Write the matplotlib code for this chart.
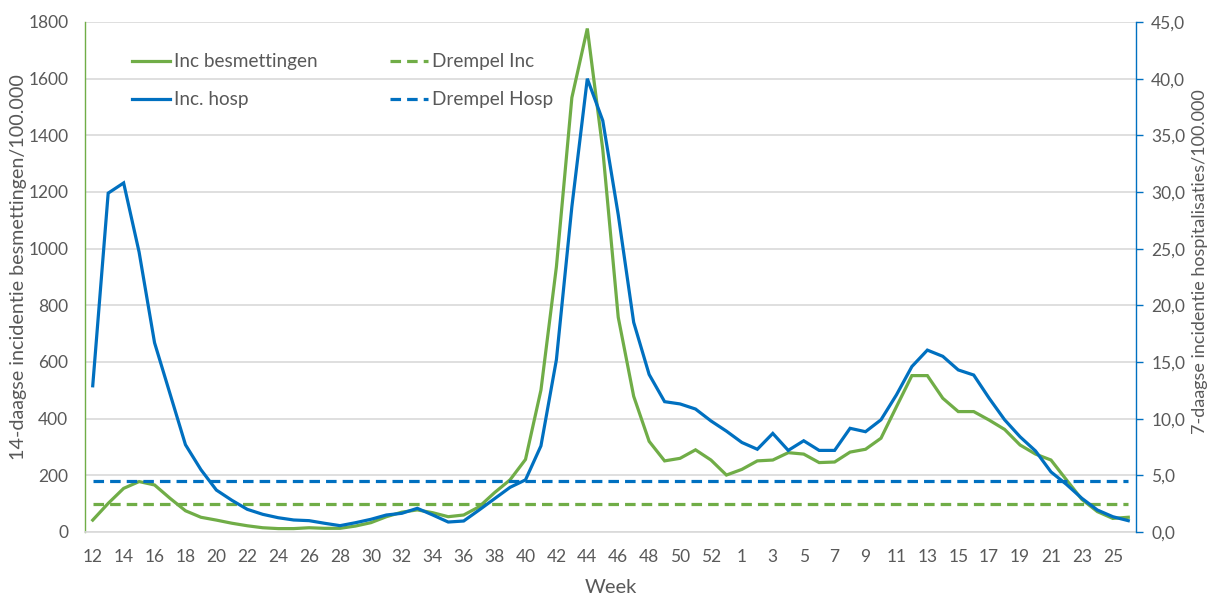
import matplotlib
matplotlib.use("Agg")
import matplotlib.pyplot as plt
from matplotlib.ticker import FuncFormatter, MultipleLocator

# Week numbers: 2020 runs 12..53, 2021 runs 1..26
weeks = list(range(12, 54)) + list(range(1, 27))

# 14-day incidence of infections per 100.000 (left axis)
inc_besmettingen = [
    42, 101, 154, 178, 166, 119, 75, 52, 42, 31, 22, 15, 12, 12,
    15, 13, 13, 21, 33, 54, 70, 78, 68, 54, 60, 89, 139, 184,
    256, 501, 936, 1533, 1777, 1350, 758, 479, 320, 251, 260, 290,
    254, 201,
    221, 251, 254, 280, 275, 245, 247, 282, 292, 331, 442, 552,
    552, 472, 425, 425, 395, 362, 307, 275, 254, 184, 115, 72, 48, 52,
]

# 7-day incidence of hospitalisations per 100.000 (right axis)
inc_hosp = [
    12.9, 29.9, 30.8, 24.7, 16.7, 12.2, 7.7, 5.5, 3.7, 2.8, 2.0, 1.56, 1.26, 1.06,
    1.0, 0.77, 0.56, 0.82, 1.12, 1.5, 1.65, 2.09, 1.5, 0.88, 0.97, 1.94, 2.94, 3.94,
    4.6, 7.6, 15.2, 28.7, 40.0, 36.3, 28.0, 18.5, 13.9, 11.5, 11.3, 10.85,
    9.8, 8.9,
    7.9, 7.3, 8.7, 7.2, 8.05, 7.2, 7.2, 9.15, 8.85, 9.9, 12.1, 14.6,
    16.05, 15.5, 14.3, 13.85, 11.8, 9.9, 8.4, 7.15, 5.3, 4.2, 2.97, 1.94, 1.35, 1.0,
]

# Thresholds
drempel_inc = 100
drempel_hosp = 4.5

GREEN = "#70AD47"
BLUE = "#0070C0"
TEXT = "#595959"
GRID = "#D9D9D9"

plt.rcParams["font.family"] = ["Lato", "DejaVu Sans"]

fig = plt.figure(figsize=(12.11, 5.95), dpi=100)
ax = fig.add_axes([85 / 1211, 1 - 532 / 595, (1136 - 85) / 1211, (532 - 22) / 595])
ax2 = ax.twinx()

x = list(range(len(weeks)))
n = len(weeks)

lw = 2.3
dash = (3.3, 1.9)

l_inc, = ax.plot(x, inc_besmettingen, color=GREEN, lw=lw, label="Inc besmettingen",
                 solid_joinstyle="miter")
l_dinc, = ax.plot([0, n - 1], [drempel_inc, drempel_inc], color=GREEN, lw=lw,
                  dashes=dash, label="Drempel Inc")
l_hosp, = ax2.plot(x, inc_hosp, color=BLUE, lw=lw, label="Inc. hosp",
                   solid_joinstyle="miter")
l_dhosp, = ax2.plot([0, n - 1], [drempel_hosp, drempel_hosp], color=BLUE, lw=lw,
                    dashes=dash, label="Drempel Hosp")

ax.set_xlim(-0.5, n - 0.5)
ax.set_ylim(0, 1800)
ax2.set_ylim(0, 45)

ax.yaxis.set_major_locator(MultipleLocator(200))
ax2.yaxis.set_major_locator(MultipleLocator(5))
ax2.yaxis.set_major_formatter(FuncFormatter(lambda v, p: f"{v:.1f}".replace(".", ",")))

ax.set_xticks(x[::2])
ax.set_xticklabels([str(w) for w in weeks[::2]])

ax.grid(axis="y", color=GRID, lw=1.2)
ax.set_axisbelow(True)

for a in (ax, ax2):
    a.spines["top"].set_visible(False)
ax.spines["left"].set_color(GREEN)
ax.spines["left"].set_linewidth(1.0)
ax.spines["right"].set_visible(False)
ax2.spines["left"].set_visible(False)
ax2.spines["bottom"].set_visible(False)
ax2.spines["right"].set_color(BLUE)
ax2.spines["right"].set_linewidth(1.0)
ax.spines["bottom"].set_color(GRID)
ax.spines["bottom"].set_linewidth(1.2)

ax.tick_params(axis="y", length=0, pad=12, labelsize=12.5, labelcolor=TEXT)
ax.tick_params(axis="x", length=0, pad=12, labelsize=12.5, labelcolor=TEXT)
ax2.tick_params(axis="y", length=5, width=1, color=BLUE, pad=6, labelsize=12.5,
                labelcolor=TEXT)

ax.set_ylabel("14-daagse incidentie besmettingen/100.000", fontsize=14.2, color=TEXT,
              va="center")
ax.yaxis.set_label_coords(-0.0637, 0.52)
ax2.set_ylabel("7-daagse incidentie hospitalisaties/100.000", fontsize=13, color=TEXT,
               va="center", rotation=90)
ax2.yaxis.set_label_coords(1.0605, 0.53)
ax.set_xlabel("Week", fontsize=14.5, color=TEXT, labelpad=10)

leg = ax2.legend(handles=[l_inc, l_hosp, l_dinc, l_dhosp], ncol=2, frameon=False,
                 loc="upper left", bbox_to_anchor=(0.0285, 0.972), fontsize=13.7,
                 handlelength=2.0, handletextpad=0.2, columnspacing=3.8,
                 labelspacing=1.1, labelcolor=TEXT)

fig.savefig("out.png", dpi=100)
